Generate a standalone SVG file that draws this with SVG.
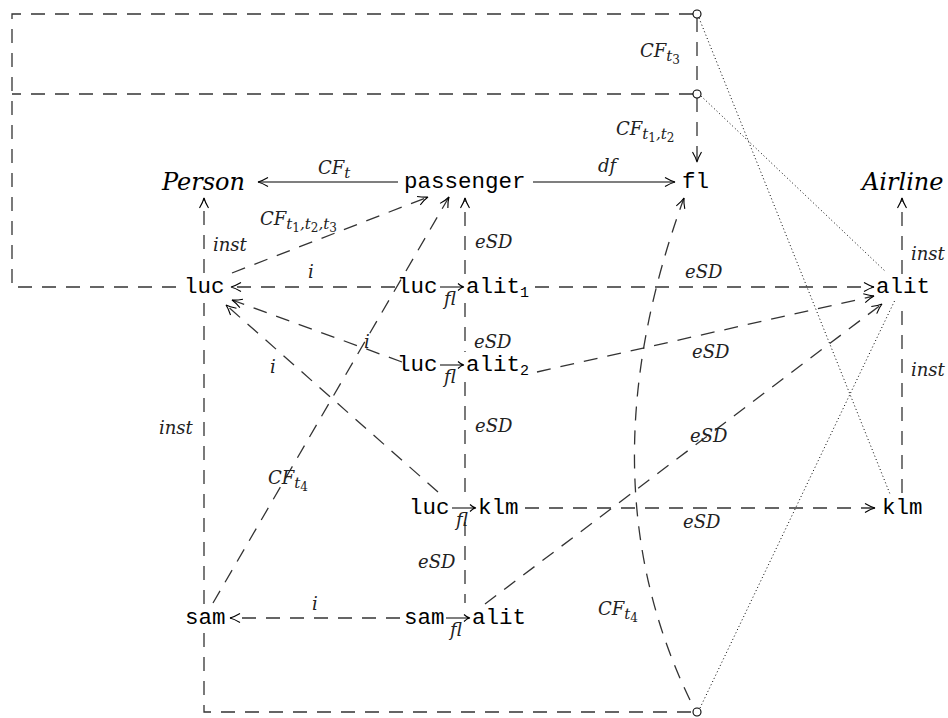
<svg xmlns="http://www.w3.org/2000/svg" width="948" height="718" viewBox="0 0 948 718">
<style>
.d{fill:none;stroke:#333;stroke-width:1.3;stroke-dasharray:14 10}
.s{fill:none;stroke:#000;stroke-width:1.2}
.o{fill:none;stroke:#000;stroke-width:1;stroke-dasharray:1 2.6}
.tt{font-family:"Liberation Mono",monospace;font-size:22.5px;fill:#000}
.m{font-family:"DejaVu Serif",serif;font-style:italic;font-size:18px;fill:#222}
.big{font-family:"DejaVu Serif",serif;font-style:italic;font-size:24px;fill:#000}
.up{font-style:normal}
.sb{font-size:15px}
.ss{font-size:12px;font-style:normal}
.sa{fill:none;stroke:#000;stroke-width:1.1}
</style>
<defs>
<marker id="ah" viewBox="-11 -6 12 12" refX="0" refY="0" markerWidth="12" markerHeight="12" markerUnits="userSpaceOnUse" orient="auto">
<path d="M -10,-4.5 Q -4,-1 0,0 Q -4,1 -10,4.5" fill="none" stroke="#000" stroke-width="1.1"/>
</marker>
</defs>
<g id="connectors">
<path class="d" d="M 693,14 H 12 V 287 H 180"/>
<path class="d" d="M 693,94 H 12"/>
<path class="d" d="M 697,18 V 90"/>
<path class="d" d="M 697,98 V 162" marker-end="url(#ah)"/>
<path class="d" d="M 204,633 V 712 H 693"/>
<path class="s" d="M 398,182 H 258" marker-end="url(#ah)"/>
<path class="s" d="M 533,182 H 675" marker-end="url(#ah)"/>
<path class="d" d="M 232,273 L 428,197" marker-end="url(#ah)"/>
<path class="d" d="M 213,603 L 449,197" marker-end="url(#ah)"/>
<path class="d" d="M 204,273 V 198" marker-end="url(#ah)"/>
<path class="d" d="M 204,604 V 303"/>
<path class="d" d="M 465,274 V 198" marker-end="url(#ah)"/>
<path class="d" d="M 465,303 V 352"/>
<path class="d" d="M 465,382 V 494"/>
<path class="d" d="M 465,522 V 603"/>
<path class="d" d="M 395,287 H 231" marker-end="url(#ah)"/>
<path class="d" d="M 402,362 L 232,300" marker-end="url(#ah)"/>
<path class="d" d="M 438,492 L 226,305" marker-end="url(#ah)"/>
<path class="d" d="M 535,287 H 874" marker-end="url(#ah)"/>
<path class="d" d="M 537,372 L 874,296" marker-end="url(#ah)"/>
<path class="d" d="M 485,604 L 882,304" marker-end="url(#ah)"/>
<path class="d" d="M 525,508 H 875" marker-end="url(#ah)"/>
<path class="d" d="M 400,618 H 230" marker-end="url(#ah)"/>
<path class="d" d="M 902,274 V 198" marker-end="url(#ah)"/>
<path class="d" d="M 902,493 V 303"/>
<path class="d" d="M 690,700 Q 582,477 684,198" marker-end="url(#ah)"/>
<path class="o" d="M 699,18 L 890,494"/>
<path class="o" d="M 701,96 L 886,272"/>
<path class="o" d="M 700,708 L 895,300"/>
</g>
<g id="circles">
<circle cx="697" cy="14" r="4" fill="#fff" stroke="#000" stroke-width="1.1"/>
<circle cx="697" cy="94" r="4" fill="#fff" stroke="#000" stroke-width="1.1"/>
<circle cx="697" cy="712" r="4" fill="#fff" stroke="#000" stroke-width="1.1"/>
</g>
<g id="labels">
<text class="m" x="318" y="174">CF<tspan class="sb" dy="4">t</tspan></text>
<text class="m" x="598" y="172">df</text>
<text class="m" x="640" y="57">CF<tspan class="sb" dy="4">t</tspan><tspan class="ss" dy="3">3</tspan></text>
<text class="m" x="616" y="135">CF<tspan class="sb" dy="4">t</tspan><tspan class="ss" dy="3">1</tspan><tspan class="sb" dy="-3">,t</tspan><tspan class="ss" dy="3">2</tspan></text>
<text class="m" x="260" y="225">CF<tspan class="sb" dy="4">t</tspan><tspan class="ss" dy="3">1</tspan><tspan class="sb" dy="-3">,t</tspan><tspan class="ss" dy="3">2</tspan><tspan class="sb" dy="-3">,t</tspan><tspan class="ss" dy="3">3</tspan></text>
<text class="m" x="268" y="484">CF<tspan class="sb" dy="4">t</tspan><tspan class="ss" dy="3">4</tspan></text>
<text class="m" x="598" y="615">CF<tspan class="sb" dy="4">t</tspan><tspan class="ss" dy="3">4</tspan></text>
<text class="m" x="213" y="251">inst</text>
<text class="m" x="159" y="434">inst</text>
<text class="m" x="911" y="260">inst</text>
<text class="m" x="911" y="376">inst</text>
<text class="m" x="475" y="248">eSD</text>
<text class="m" x="474" y="348">eSD</text>
<text class="m" x="475" y="432">eSD</text>
<text class="m" x="418" y="568">eSD</text>
<text class="m" x="685" y="278">eSD</text>
<text class="m" x="692" y="358">eSD</text>
<text class="m" x="690" y="442">eSD</text>
<text class="m" x="683" y="528">eSD</text>
<text class="m" x="308" y="278">i</text>
<text class="m" x="364" y="348">i</text>
<text class="m" x="270" y="373">i</text>
<text class="m" x="312" y="610">i</text>
</g>
<g id="Person"><text class="big" x="162" y="190">Person</text></g>
<g id="Airline"><text class="big" x="862" y="190">Airline</text></g>
<g id="passenger"><text class="tt" x="404" y="188">passenger</text></g>
<g id="fl"><text class="tt" x="682" y="188">fl</text></g>
<g id="luc"><text class="tt" x="184" y="293">luc</text></g>
<g id="alit"><text class="tt" x="876" y="293">alit</text></g>
<g id="klm"><text class="tt" x="882" y="514">klm</text></g>
<g id="sam"><text class="tt" x="185" y="624">sam</text></g>
<g id="luc_alit1">
<text class="tt" x="397" y="293">luc</text>
<path class="sa" d="M 440,287 H 463 M 458,283.5 Q 461,286.5 464,287 Q 461,287.5 458,290.5"/>
<text class="m" x="444" y="305" font-size="16">fl</text>
<text class="tt" x="466" y="293">alit<tspan font-size="15" dy="4">1</tspan></text>
</g>
<g id="luc_alit2">
<text class="tt" x="397" y="371">luc</text>
<path class="sa" d="M 440,365 H 463 M 458,361.5 Q 461,364.5 464,365 Q 461,365.5 458,368.5"/>
<text class="m" x="444" y="383" font-size="16">fl</text>
<text class="tt" x="466" y="371">alit<tspan font-size="15" dy="4">2</tspan></text>
</g>
<g id="luc_klm">
<text class="tt" x="409" y="514">luc</text>
<path class="sa" d="M 452,508 H 475 M 470,504.5 Q 473,507.5 476,508 Q 473,508.5 470,511.5"/>
<text class="m" x="456" y="526" font-size="16">fl</text>
<text class="tt" x="478" y="514">klm</text>
</g>
<g id="sam_alit">
<text class="tt" x="404" y="624">sam</text>
<path class="sa" d="M 446,618 H 469 M 464,614.5 Q 467,617.5 470,618 Q 467,618.5 464,621.5"/>
<text class="m" x="450" y="636" font-size="16">fl</text>
<text class="tt" x="472" y="624">alit</text>
</g>
</svg>
